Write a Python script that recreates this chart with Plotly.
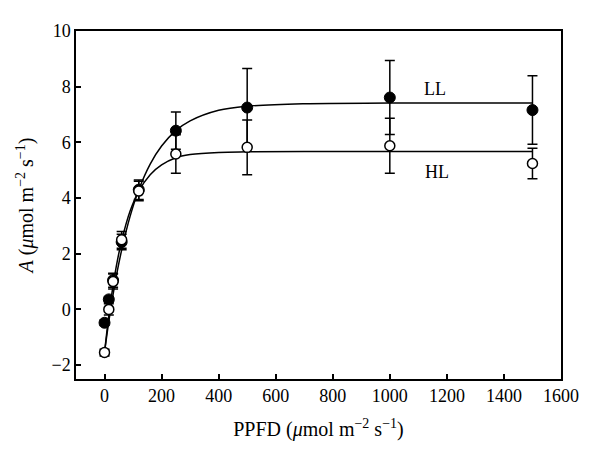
import plotly.graph_objects as go

# Measured points
ppfd = [0, 15, 30, 60, 120, 250, 500, 1000, 1500]
ll_a = [-0.48, 0.36, 1.05, 2.42, 4.30, 6.42, 7.25, 7.61, 7.16]
ll_err = [0.10, 0.10, 0.25, 0.28, 0.35, 0.67, 1.40, 1.33, 1.23]
hl_a = [-1.55, 0.00, 1.00, 2.50, 4.25, 5.58, 5.82, 5.88, 5.24]
hl_err = [0.12, 0.20, 0.27, 0.30, 0.35, 0.69, 0.98, 0.99, 0.55]

# Fitted curves
fit_x = [0, 15, 30, 45, 60, 90, 120, 160, 200, 250, 300, 400, 500, 700, 1000, 1500]
ll_fit = [-1.54, -0.43, 0.54, 1.39, 2.13, 3.36, 4.30, 5.22, 5.87, 6.42, 6.77, 7.15, 7.30, 7.39, 7.41, 7.41]
hl_fit = [-1.55, -0.22, 0.86, 1.75, 2.47, 3.54, 4.25, 4.84, 5.19, 5.45, 5.56, 5.64, 5.66, 5.67, 5.67, 5.67]

x_ticks = [0, 200, 400, 600, 800, 1000, 1200, 1400, 1600]
y_ticks = [-2, 0, 2, 4, 6, 8, 10]

FONT = "Liberation Serif, Times New Roman, serif"
TITLE_FONT = dict(family=FONT, size=20, color="black")

fig = go.Figure()
fig.add_trace(go.Scatter(x=fit_x, y=ll_fit, mode="lines", line=dict(color="black", width=1.5, shape="spline"), showlegend=False, hoverinfo="skip"))
fig.add_trace(go.Scatter(x=fit_x, y=hl_fit, mode="lines", line=dict(color="black", width=1.5, shape="spline"), showlegend=False, hoverinfo="skip"))
fig.add_trace(go.Scatter(
    x=ppfd, y=ll_a, mode="markers", name="LL",
    marker=dict(symbol="circle", size=11, color="black", line=dict(color="black", width=1)),
    error_y=dict(type="data", array=ll_err, visible=True, color="black", thickness=1.5, width=5),
    showlegend=False))
fig.add_trace(go.Scatter(
    x=ppfd, y=hl_a, mode="markers", name="HL",
    marker=dict(symbol="circle", size=10, color="white", line=dict(color="black", width=1.5)),
    error_y=dict(type="data", array=hl_err, visible=True, color="black", thickness=1.5, width=5),
    showlegend=False))

fig.add_annotation(x=1160, y=7.9, text="LL", showarrow=False, font=dict(family=FONT, size=18, color="black"))
fig.add_annotation(x=1165, y=4.95, text="HL", showarrow=False, font=dict(family=FONT, size=18, color="black"))

fig.update_layout(
    width=600, height=464,
    margin=dict(l=68, r=47, t=23, b=93),
    paper_bgcolor="white", plot_bgcolor="white",
    font=dict(family=FONT, size=17, color="black"),
    xaxis=dict(
        range=[-100, 1600], tickvals=x_ticks, ticks="inside", ticklen=5, tickwidth=1.5,
        tickcolor="black", showline=True, linecolor="black", linewidth=1.5, mirror=True,
        showgrid=False, zeroline=False, tickfont=dict(family=FONT, size=18, color="black"),
        title=dict(text="PPFD (<i>μ</i>mol m<sup>−2</sup> s<sup>−1</sup>)", standoff=17, font=TITLE_FONT),
    ),
    yaxis=dict(
        range=[-2.5, 10], tickvals=y_ticks, ticks="inside", ticklen=5, tickwidth=1.5,
        tickcolor="black", showline=True, linecolor="black", linewidth=1.5, mirror=True,
        showgrid=False, zeroline=False, tickfont=dict(family=FONT, size=18, color="black"),
        title=dict(text="<i>A</i> (<i>μ</i>mol m<sup>−2</sup> s<sup>−1</sup>)", standoff=12, font=TITLE_FONT),
    ),
)

fig.write_html("out.html")
